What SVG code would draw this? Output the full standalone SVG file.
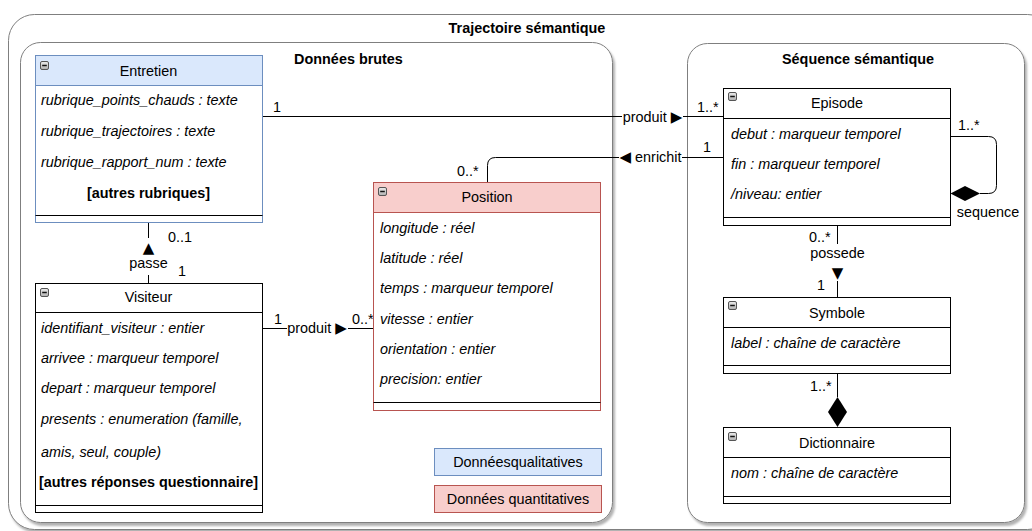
<svg xmlns="http://www.w3.org/2000/svg" width="1032" height="531" viewBox="0 0 1032 531">
<style>
.t{font-family:"Liberation Sans",Arial,"DejaVu Sans",sans-serif;font-size:14.4px;fill:#000}
.i{font-style:italic}
.b{font-weight:bold}
.m{text-anchor:middle}
.ar{font-family:"DejaVu Sans",sans-serif;font-size:15px}
.box{fill:#fff;stroke:#000;stroke-width:1}
.ln{stroke:#000;stroke-width:1;fill:none}
.grp{fill:#fff;stroke:#7f7f7f;stroke-width:1;filter:url(#sh)}
.bg{fill:#fff}
</style>
<defs>
<filter id="sh" x="-5%" y="-5%" width="110%" height="110%">
<feDropShadow dx="2" dy="3" stdDeviation="1.2" flood-color="#000" flood-opacity="0.3"/>
</filter>
<linearGradient id="ig" x1="0" y1="0" x2="0" y2="1">
<stop offset="0" stop-color="#ececec"/>
<stop offset="1" stop-color="#b0b0b0"/>
</linearGradient>
<g id="ico">
<rect x="0.5" y="0.5" width="8" height="8" rx="1.5" fill="url(#ig)" stroke="#555"/>
<line x1="2.2" y1="4.5" x2="6.8" y2="4.5" stroke="#111" stroke-width="1.5"/>
</g>
</defs>

<g id="trajectoire">
<rect class="grp" x="8.5" y="14.5" width="1045" height="515" rx="26"/>
<text class="t b m" x="527" y="33">Trajectoire sémantique</text>
</g>

<g id="donnees-brutes">
<rect class="grp" x="20.5" y="42.5" width="592" height="480" rx="20"/>
<text class="t b m" x="348.5" y="64">Données brutes</text>
</g>

<g id="sequence-semantique">
<rect class="grp" x="687.5" y="43.5" width="337" height="479" rx="20"/>
<text class="t b m" x="858" y="64">Séquence sémantique</text>
</g>

<g id="connectors">
<!-- Entretien produit Episode -->
<line class="ln" x1="262.5" y1="116.5" x2="723.5" y2="116.5"/>
<rect class="bg" x="622" y="108" width="61" height="17"/>
<text class="t m" x="652.5" y="121.5">produit <tspan class="ar">▶</tspan></text>
<text class="t" x="273" y="112">1</text>
<text class="t" x="697" y="112">1..*</text>
<!-- Episode enrichit Position -->
<path class="ln" d="M723.5 157.5H495.5Q487.5 157.5 487.5 165.5V182.5"/>
<rect class="bg" x="619" y="148" width="63" height="17"/>
<text class="t m" x="650.5" y="162"><tspan class="ar">◀</tspan> enrichit</text>
<text class="t" x="703" y="152">1</text>
<text class="t" x="457" y="176">0..*</text>
<!-- Visiteur passe Entretien -->
<line class="ln" x1="148.5" y1="222.5" x2="148.5" y2="283.5"/>
<rect class="bg" x="128" y="238" width="41" height="37"/>
<text class="t ar m" x="148.5" y="253">▲</text>
<text class="t m" x="148.5" y="268">passe</text>
<text class="t" x="168" y="242">0..1</text>
<text class="t" x="178" y="276">1</text>
<!-- Visiteur produit Position -->
<line class="ln" x1="262.5" y1="328.5" x2="373.5" y2="328.5"/>
<rect class="bg" x="287" y="320" width="61" height="17"/>
<text class="t m" x="317" y="333">produit <tspan class="ar">▶</tspan></text>
<text class="t" x="274" y="324">1</text>
<text class="t" x="352" y="324">0..*</text>
<!-- Episode sequence (self) -->
<path class="ln" d="M950.5 136.5H988.5Q996.5 136.5 996.5 144.5V185.5Q996.5 193.5 988.5 193.5H980"/>
<polygon points="950.5,193.5 965,186 980,193.5 965,201" fill="#000"/>
<text class="t" x="958" y="130">1..*</text>
<text class="t m" x="988" y="217">sequence</text>
<!-- Episode possede Symbole -->
<line class="ln" x1="837.5" y1="225.5" x2="837.5" y2="297.5"/>
<rect class="bg" x="810" y="244" width="55" height="37"/>
<text class="t m" x="837.5" y="258">possede</text>
<text class="t ar m" x="837.5" y="278">▼</text>
<text class="t" x="809" y="242">0..*</text>
<text class="t" x="817" y="290">1</text>
<!-- Dictionnaire composition Symbole -->
<line class="ln" x1="837.5" y1="373.5" x2="837.5" y2="397"/>
<polygon points="837.5,397 847,412 837.5,427 828,412" fill="#000"/>
<text class="t" x="810" y="391">1..*</text>
</g>

<g id="entretien">
<rect x="35.5" y="55.5" width="227" height="167" fill="#fff" stroke="#6c8ebf"/>
<rect x="35.5" y="55.5" width="227" height="30" fill="#dae8fc" stroke="#6c8ebf"/>
<line class="ln" x1="35.5" y1="215.5" x2="262.5" y2="215.5"/>
<use href="#ico" x="40" y="61"/>
<text class="t m" x="148.5" y="76">Entretien</text>
<text class="t i" x="41" y="105">rubrique_points_chauds : texte</text>
<text class="t i" x="41" y="136">rubrique_trajectoires : texte</text>
<text class="t i" x="41" y="167">rubrique_rapport_num : texte</text>
<text class="t b m" x="148.5" y="198">[autres rubriques]</text>
</g>

<g id="visiteur">
<rect class="box" x="35.5" y="283.5" width="227" height="229"/>
<line class="ln" x1="35.5" y1="312.5" x2="262.5" y2="312.5"/>
<line class="ln" x1="35.5" y1="505.5" x2="262.5" y2="505.5"/>
<use href="#ico" x="40" y="288"/>
<text class="t m" x="148.5" y="302">Visiteur</text>
<text class="t i" x="41" y="333">identifiant_visiteur : entier</text>
<text class="t i" x="41" y="363">arrivee : marqueur temporel</text>
<text class="t i" x="41" y="393">depart : marqueur temporel</text>
<text class="t i" x="41" y="424">presents : enumeration (famille,</text>
<text class="t i" x="41" y="457">amis, seul, couple)</text>
<text class="t b m" x="148.5" y="487">[autres réponses questionnaire]</text>
</g>

<g id="position">
<rect x="373.5" y="182.5" width="227" height="228" fill="#fff" stroke="#b85450"/>
<rect x="373.5" y="182.5" width="227" height="30" fill="#f8cecc" stroke="#b85450"/>
<line class="ln" x1="373.5" y1="402.5" x2="600.5" y2="402.5"/>
<use href="#ico" x="378" y="187"/>
<text class="t m" x="487" y="202">Position</text>
<text class="t i" x="380" y="233">longitude : réel</text>
<text class="t i" x="380" y="263">latitude : réel</text>
<text class="t i" x="380" y="293">temps : marqueur temporel</text>
<text class="t i" x="380" y="324">vitesse : entier</text>
<text class="t i" x="380" y="354">orientation : entier</text>
<text class="t i" x="380" y="384">precision: entier</text>
</g>

<g id="legende-qualitatives">
<rect x="434.5" y="448.5" width="167" height="27" fill="#dae8fc" stroke="#6c8ebf"/>
<text class="t m" x="518" y="467">Donnéesqualitatives</text>
</g>
<g id="legende-quantitatives">
<rect x="434.5" y="485.5" width="167" height="27" fill="#f8cecc" stroke="#b85450"/>
<text class="t m" x="518" y="504">Données quantitatives</text>
</g>

<g id="episode">
<rect class="box" x="723.5" y="88.5" width="227" height="137"/>
<line class="ln" x1="723.5" y1="118.5" x2="950.5" y2="118.5"/>
<line class="ln" x1="723.5" y1="217.5" x2="950.5" y2="217.5"/>
<use href="#ico" x="728" y="92"/>
<text class="t m" x="837" y="108">Episode</text>
<text class="t i" x="731" y="139">debut : marqueur temporel</text>
<text class="t i" x="731" y="169">fin : marqueur temporel</text>
<text class="t i" x="731" y="199">/niveau: entier</text>
</g>

<g id="symbole">
<rect class="box" x="723.5" y="297.5" width="227" height="76"/>
<line class="ln" x1="723.5" y1="327.5" x2="950.5" y2="327.5"/>
<line class="ln" x1="723.5" y1="365.5" x2="950.5" y2="365.5"/>
<use href="#ico" x="728" y="301"/>
<text class="t m" x="837" y="317.5">Symbole</text>
<text class="t i" x="731" y="347.5">label : chaîne de caractère</text>
</g>

<g id="dictionnaire">
<rect class="box" x="723.5" y="427.5" width="227" height="76"/>
<line class="ln" x1="723.5" y1="457.5" x2="950.5" y2="457.5"/>
<line class="ln" x1="723.5" y1="496.5" x2="950.5" y2="496.5"/>
<use href="#ico" x="728" y="432"/>
<text class="t m" x="837" y="448">Dictionnaire</text>
<text class="t i" x="731" y="478">nom : chaîne de caractère</text>
</g>
</svg>
